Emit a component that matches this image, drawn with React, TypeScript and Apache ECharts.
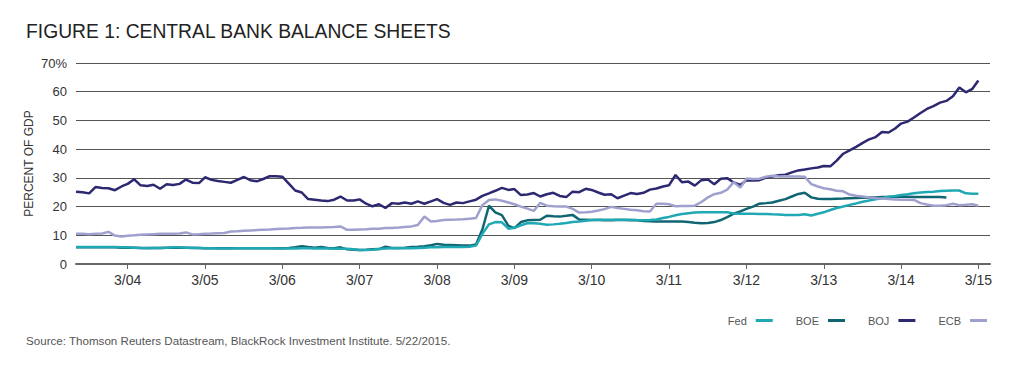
import React, { useEffect, useRef } from "react";
import * as echarts from "echarts";

// Monthly observations starting July 2003 (index 0), % of GDP
const START = { year: 2003, month: 6 }; // month is 0-based (6 = July)

const bojValues = [
  25.2, 25.0, 24.6, 26.8, 26.5, 26.4, 25.7, 27.0, 27.9, 29.5,
  27.4, 27.2, 27.6, 26.2, 27.8, 27.5, 27.9, 29.4, 28.3, 28.2,
  30.2, 29.3, 28.9, 28.6, 28.3, 29.3, 30.3, 29.2, 28.8, 29.6,
  30.6, 30.6, 30.4, 28.0, 25.6, 24.9, 22.6, 22.4, 22.1, 21.9,
  22.4, 23.5, 22.1, 22.1, 22.5, 21.0, 20.1, 20.8, 19.5, 21.2,
  21.0, 21.4, 21.0, 21.8, 21.0, 21.8, 22.6, 21.3, 20.6, 21.4,
  21.2, 21.8, 22.4, 23.7, 24.6, 25.5, 26.5, 25.8, 26.1, 24.0,
  24.2, 24.7, 23.5, 24.3, 24.8, 23.7, 23.3, 25.2, 25.0, 26.2,
  25.8, 24.9, 24.1, 24.3, 22.9, 23.8, 24.7, 24.4, 24.8, 25.9,
  26.3, 27.0, 27.4, 31.0, 28.5, 28.7, 27.3, 29.2, 29.4, 27.8,
  29.7, 29.9, 28.4, 27.5, 29.2, 29.1, 29.2, 30.1, 30.5, 30.9,
  31.1, 31.9, 32.6, 32.9, 33.3, 33.6, 34.1, 34.0, 36.0, 38.4,
  39.6, 40.8, 42.2, 43.4, 44.2, 46.0, 45.8, 47.2, 48.9, 49.6,
  51.0, 52.6, 54.0, 55.0, 56.2, 56.8, 58.4, 61.5, 59.8, 61.0, 63.9,
];

const fedValues = [
  5.9, 5.9, 5.9, 5.9, 5.9, 5.9, 5.9, 5.8, 5.8, 5.7,
  5.6, 5.5, 5.6, 5.6, 5.7, 5.8, 5.8, 5.7, 5.7, 5.6,
  5.5, 5.5, 5.4, 5.4, 5.4, 5.5, 5.5, 5.5, 5.5, 5.5,
  5.5, 5.4, 5.4, 5.4, 5.4, 5.5, 5.5, 5.4, 5.4, 5.4,
  5.3, 5.3, 5.3, 5.1, 4.9, 4.9, 5.0, 5.2, 5.4, 5.5,
  5.5, 5.5, 5.5, 5.6, 5.7, 5.8, 5.8, 5.9, 5.9, 5.9,
  5.9, 6.0, 6.4, 10.5, 13.8, 14.6, 14.5, 12.3, 12.6, 13.5,
  14.2, 14.2, 14.0, 13.7, 13.8, 14.0, 14.3, 14.6, 14.8, 15.1,
  15.3, 15.4, 15.4, 15.4, 15.4, 15.4, 15.4, 15.3, 15.2, 15.3,
  15.5, 16.0, 16.4, 17.0, 17.4, 17.7, 17.9, 18.0, 18.0, 18.0,
  18.0, 18.0, 17.6, 17.5, 17.5, 17.5, 17.4, 17.4, 17.3, 17.2,
  17.1, 17.1, 17.1, 17.3, 16.9, 17.5, 18.0, 18.8, 19.5, 20.0,
  20.6, 21.1, 21.7, 22.1, 22.5, 22.9, 23.4, 23.7, 24.0, 24.3,
  24.6, 24.9, 25.1, 25.2, 25.4, 25.5, 25.6, 25.6, 24.6, 24.5, 24.5,
];

const ecbValues = [
  10.5, 10.5, 10.4, 10.5, 10.6, 11.2, 9.9, 9.6, 9.8, 10.0,
  10.2, 10.3, 10.4, 10.5, 10.5, 10.5, 10.6, 11.0, 10.3, 10.4,
  10.5, 10.6, 10.7, 10.8, 11.3, 11.4, 11.6, 11.7, 11.8, 11.9,
  12.0, 12.2, 12.3, 12.4, 12.5, 12.6, 12.7, 12.7, 12.7, 12.8,
  12.9, 13.1, 11.9, 11.9, 12.0, 12.1, 12.3, 12.3, 12.5, 12.5,
  12.7, 12.9, 13.1, 13.6, 16.5, 14.8, 15.0, 15.3, 15.4, 15.5,
  15.6, 15.8, 16.0, 20.5, 22.3, 22.5, 22.0, 21.4, 20.8, 20.0,
  19.3, 18.5, 21.3, 20.3, 20.1, 20.0, 20.0, 19.2, 17.9, 18.0,
  18.2, 18.6, 19.1, 19.9, 19.5, 19.2, 18.9, 18.7, 18.4, 18.3,
  21.0, 21.0, 20.8, 20.1, 20.2, 20.2, 20.3, 21.6, 23.2, 24.3,
  24.8, 25.9, 28.5, 26.6, 29.8, 29.6, 29.7, 30.4, 30.7, 30.5,
  30.6, 30.5, 30.5, 30.4, 27.8, 27.0, 26.4, 26.0, 25.5, 25.3,
  24.2, 23.8, 23.5, 23.2, 22.9, 22.8, 22.6, 22.5, 22.4, 22.4,
  22.3, 21.2, 20.7, 20.3, 20.3, 20.5, 21.0, 20.5, 20.6, 20.8, 20.3,
];

const boeValues = [
  5.8, 5.8, 5.8, 5.8, 5.8, 5.8, 5.8, 5.7, 5.7, 5.7,
  5.6, 5.6, 5.6, 5.6, 5.7, 5.7, 5.7, 5.7, 5.6, 5.6,
  5.5, 5.5, 5.5, 5.5, 5.5, 5.5, 5.5, 5.5, 5.5, 5.5,
  5.5, 5.5, 5.5, 5.6, 5.8, 6.2, 5.9, 5.7, 5.9, 5.6,
  5.5, 5.8, 5.1, 5.0, 4.9, 5.0, 5.1, 5.2, 6.0, 5.6,
  5.6, 5.7, 5.9, 6.0, 6.2, 6.5, 7.0, 6.7, 6.6, 6.5,
  6.4, 6.4, 6.8, 12.0, 20.3, 18.0, 17.0, 13.3, 12.5, 14.6,
  15.2, 15.3, 15.4, 16.8, 16.6, 16.5, 16.8, 17.1, 15.5, 15.4,
  15.3, 15.3, 15.2, 15.2, 15.3, 15.3, 15.2, 15.2, 15.0, 14.9,
  14.8, 14.8, 14.8, 14.8, 14.8, 14.6, 14.4, 14.2, 14.3, 14.6,
  15.3, 16.3, 17.5, 18.3, 19.2, 20.0, 21.0, 21.2, 21.4, 22.0,
  22.6, 23.5, 24.4, 24.8, 23.2, 22.7, 22.6, 22.6, 22.7, 22.8,
  22.9, 23.0, 23.1, 23.2, 23.2, 23.3, 23.3, 23.4, 23.5, 23.4,
  23.3, 23.3, 23.3, 23.3, 23.3, 23.2,
];

const tickYears = [2004, 2005, 2006, 2007, 2008, 2009, 2010, 2011, 2012, 2013, 2014, 2015];
const legendNames = ["Fed", "BOE", "BOJ", "ECB"];
const titleText = "FIGURE 1: CENTRAL BANK BALANCE SHEETS";
const yAxisName = "PERCENT OF GDP";
const sourceText = "Source: Thomson Reuters Datastream, BlackRock Investment Institute. 5/22/2015.";

const FONT = "'Liberation Sans', Arial, Helvetica, sans-serif";

const toSeries = (vals: number[]) =>
  vals.map((v, k) => [Date.UTC(START.year, START.month + k, 1), v]);

export default function App() {
  const ref = useRef<HTMLDivElement>(null);
  useEffect(() => {
    if (!ref.current) return;
    const chart = echarts.init(ref.current, undefined, { renderer: "svg" });
    const tickDates = tickYears.map((y) => Date.UTC(y, 2, 1));
    const mk = (name: string, vals: number[], color: string, z: number) => ({
      name,
      type: "line",
      data: toSeries(vals),
      symbol: "none",
      showSymbol: false,
      z,
      lineStyle: { color, width: 2.5 },
      itemStyle: { color },
    });
    chart.setOption({
      animation: false,
      backgroundColor: "#ffffff",
      title: {
        text: titleText,
        left: 21,
        top: 17,
        textStyle: { fontSize: 19.3, fontWeight: "normal", color: "#222", fontFamily: FONT },
      },
      grid: { left: 76, right: 22, top: 63, bottom: 106, containLabel: false },
      legend: {
        data: legendNames,
        right: 20,
        top: 310,
        align: "right",
        itemGap: 23,
        itemWidth: 21,
        itemHeight: 3,
        icon: "path://M0,0 M4,0 L21,0 L21,3 L4,3 Z",
        itemStyle: { borderWidth: 0 },
        textStyle: { fontSize: 11, color: "#555", fontFamily: FONT },
      },
      xAxis: {
        type: "value",
        min: Date.UTC(2003, 6, 1),
        max: Date.UTC(2015, 3, 25),
        axisLine: { show: true, lineStyle: { color: "#666", width: 2 } },
        axisTick: { show: true, length: 5, lineStyle: { color: "#666", width: 1 }, customValues: tickDates },
        axisLabel: {
          customValues: tickDates,
          formatter: (v: number) => {
            const d = new Date(v);
            return `${d.getUTCMonth() + 1}/${String(d.getUTCFullYear()).slice(2)}`;
          },
          color: "#333",
          fontSize: 14,
          margin: 9,
          fontFamily: FONT,
        },
        splitLine: { show: false },
      },
      yAxis: {
        type: "value",
        min: 0,
        max: 70,
        interval: 10,
        axisLine: { show: false },
        axisTick: { show: false },
        axisLabel: {
          formatter: (v: number) => (v === 70 ? "70%" : String(v)),
          color: "#333",
          fontSize: 13,
          margin: 9,
          fontFamily: FONT,
        },
        splitLine: { lineStyle: { color: "#555", width: 1.2 } },
        name: yAxisName,
        nameLocation: "middle",
        nameGap: 41,
        nameMoveOverlap: false,
        nameTextStyle: { fontSize: 12, color: "#333", fontFamily: FONT },
      },
      graphic: [
        {
          type: "text",
          left: 26,
          top: 334,
          style: { text: sourceText, fontSize: 11.6, fill: "#555", font: `11.6px ${FONT}` },
        },
      ],
      series: [
        mk("BOE", boeValues, "#0f6672", 2),
        mk("Fed", fedValues, "#20a8b4", 3),
        mk("BOJ", bojValues, "#2c2871", 4),
        mk("ECB", ecbValues, "#a0a0ce", 5),
      ],
    });
    return () => chart.dispose();
  }, []);
  return (
    <div
      ref={ref}
      style={{ position: "fixed", left: 0, top: 0, width: 1012, height: 370, background: "#fff" }}
    />
  );
}
